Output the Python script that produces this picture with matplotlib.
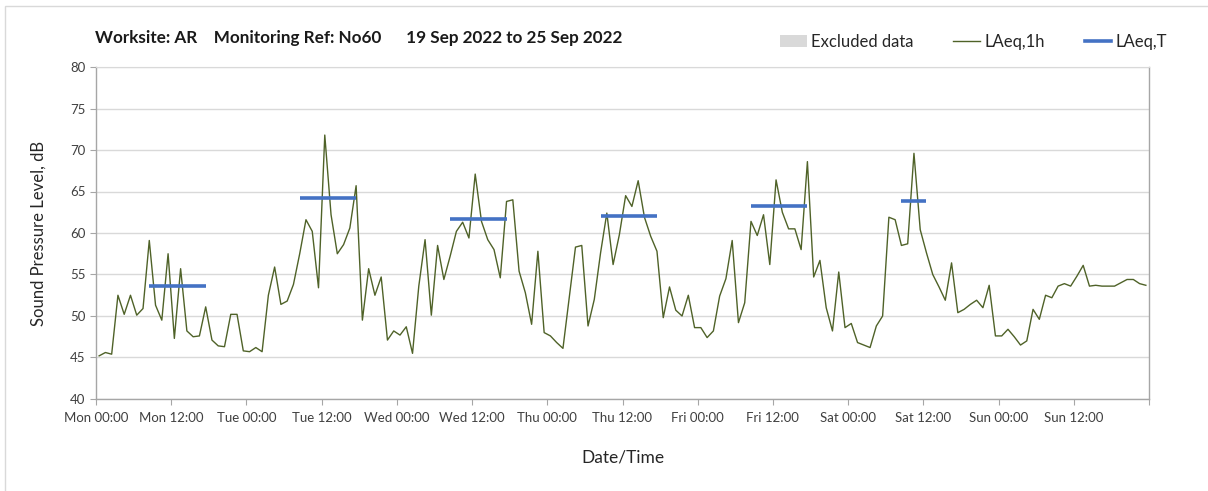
import matplotlib
matplotlib.use("Agg")
import matplotlib.pyplot as plt
from matplotlib.patches import Patch, Rectangle
from matplotlib.lines import Line2D

# hourly LAeq,1h values, Mon 19 Sep 00:00 to Sun 25 Sep 23:00
laeq_1h = [
    # Mon
    45.2, 45.6, 45.4, 52.5, 50.2, 52.5, 50.1, 50.9, 59.1, 51.3, 49.5, 57.5,
    47.3, 55.7, 48.2, 47.5, 47.6, 51.1, 47.1, 46.4, 46.3, 50.2, 50.2, 45.8,
    # Tue
    45.7, 46.2, 45.7, 52.5, 55.9, 51.4, 51.8, 53.8, 57.5, 61.6, 60.2, 53.4,
    71.8, 62.2, 57.5, 58.6, 60.6, 65.7, 49.5, 55.7, 52.5, 54.7, 47.1, 48.2,
    # Wed
    47.7, 48.7, 45.5, 53.6, 59.2, 50.1, 58.5, 54.4, 57.2, 60.2, 61.3, 59.4,
    67.1, 61.4, 59.2, 58.0, 54.6, 63.8, 64.0, 55.4, 52.8, 49.0, 57.8, 48.0,
    # Thu
    47.6, 46.8, 46.1, 52.2, 58.3, 58.5, 48.8, 52.0, 57.6, 62.4, 56.2, 59.8,
    64.5, 63.2, 66.3, 61.9, 59.6, 57.8, 49.8, 53.5, 50.7, 50.0, 52.5, 48.6,
    # Fri
    48.6, 47.4, 48.2, 52.4, 54.5, 59.1, 49.2, 51.6, 61.4, 59.7, 62.2, 56.2,
    66.4, 62.5, 60.5, 60.5, 58.0, 68.6, 54.7, 56.7, 51.0, 48.2, 55.3, 48.6,
    # Sat
    49.1, 46.8, 46.5, 46.2, 48.8, 50.0, 61.9, 61.6, 58.5, 58.7, 69.6, 60.4,
    57.6, 55.0, 53.5, 51.9, 56.4, 50.4, 50.8, 51.4, 51.9, 51.0, 53.7, 47.6,
    # Sun
    47.6, 48.4, 47.5, 46.5, 47.0, 50.8, 49.6, 52.5, 52.2, 53.6, 53.9, 53.6,
    54.8, 56.1, 53.6, 53.7, 53.6, 53.6, 53.6, 54.0, 54.4, 54.4, 53.9, 53.7,
]

# LAeq,T periods: (start hour, end hour, level)
period_start = [8, 32, 56, 80, 104, 128]
period_end = [18, 42, 66, 90, 114, 133]
period_level = [53.6, 64.2, 61.65, 62.05, 63.25, 63.8]

tick_labels = ["Mon 00:00", "Mon 12:00", "Tue 00:00", "Tue 12:00",
               "Wed 00:00", "Wed 12:00", "Thu 00:00", "Thu 12:00",
               "Fri 00:00", "Fri 12:00", "Sat 00:00", "Sat 12:00",
               "Sun 00:00", "Sun 12:00"]

title = "Worksite: AR    Monitoring Ref: No60      19 Sep 2022 to 25 Sep 2022"

plt.rcParams["font.family"] = ["Lato", "DejaVu Sans"]

fig = plt.figure(figsize=(12.08, 4.91), dpi=100)
ax = fig.add_axes([96 / 1208, 1 - 399 / 491, (1149 - 96) / 1208, (399 - 67) / 491])

# chart-area border
fig.patches.append(Rectangle((5 / 1208, -0.1), 1.2, 1 - 6 / 491 + 0.1,
                             transform=fig.transFigure, fill=False,
                             edgecolor="#d9d9d9", linewidth=1))

hours = [h + 0.5 for h in range(len(laeq_1h))]
ax.plot(hours, laeq_1h, color="#4f6228", linewidth=1, zorder=3)

for s, e, lvl in zip(period_start, period_end, period_level):
    ax.plot([s + 0.5, e - 0.5], [lvl, lvl], color="#4472c4", linewidth=2.6,
            solid_capstyle="butt", zorder=4)

ax.set_xlim(0, 168)
ax.set_ylim(40, 80)
ax.set_yticks(range(40, 81, 5))
ax.set_xticks(range(0, 169, 12))
ax.set_xticklabels(tick_labels + [""])
ax.set_xticks(range(0, 169, 24), minor=True)

ax.grid(axis="y", color="#d9d9d9", linewidth=1)
ax.grid(axis="x", which="minor", color="#d9d9d9", linewidth=1)
ax.set_axisbelow(True)

for side in ["left", "bottom", "right"]:
    ax.spines[side].set_color("#a6a6a6")
    ax.spines[side].set_linewidth(1)
ax.spines["top"].set_color("#d9d9d9")
ax.tick_params(axis="both", which="major", color="#a6a6a6", length=4,
               labelsize=9.5, labelcolor="#404040")
ax.tick_params(axis="x", which="minor", length=0)
ax.tick_params(axis="x", pad=5)

ax.set_ylabel("Sound Pressure Level, dB", fontsize=12, color="#262626", labelpad=17)
ax.set_xlabel("Date/Time", fontsize=12.5, color="#262626", labelpad=19)

fig.text(95 / 1208, 1 - 38 / 491, title, fontsize=12.3, fontweight="bold",
         color="#1a1a1a", va="center", ha="left")

handles = [Patch(facecolor="#d9d9d9", edgecolor="none"),
           Line2D([], [], color="#4f6228", linewidth=1),
           Line2D([], [], color="#4472c4", linewidth=2.6)]
fig.legend(handles, ["Excluded data", "LAeq,1h", "LAeq,T"], ncol=3,
           loc="center right", bbox_to_anchor=(1182 / 1208, 1 - 42 / 491),
           frameon=False, fontsize=12, handlelength=1.6, handleheight=0.7,
           handletextpad=0.25, columnspacing=2.4, labelcolor="#262626")

fig.savefig("out.png", dpi=100)
